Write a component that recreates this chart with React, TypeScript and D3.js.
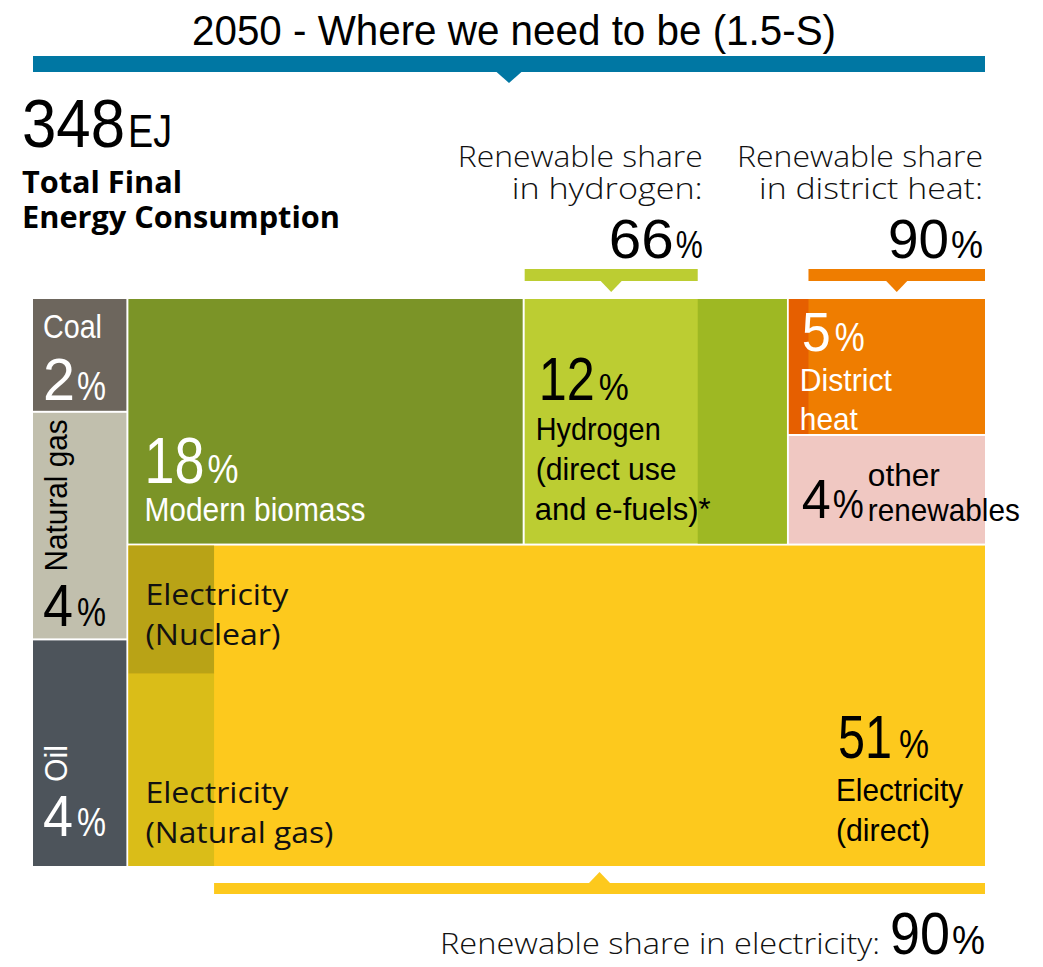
import React from "react";
import * as d3 from "d3";

// ---------- DATA ----------
const categories = ["Coal", "Natural gas", "Oil", "Modern biomass", "Hydrogen", "District heat", "Other renewables", "Electricity"];
const shares = [2, 4, 4, 18, 12, 5, 4, 51];
const colors = ["#6d665d", "#c1bfad", "#4d545b", "#7b9427", "#bccd32", "#ef7d00", "#f0c8c2", "#fdc91d"];

const renewableCarriers = ["Hydrogen", "District heat", "Electricity"];
const renewableShares = [66, 90, 90];
const nonRenewableColors = ["#9eb823", "#e65f00", "#dabd18"];

const nonRenewableElectricity = ["Nuclear", "Natural gas"];
const nonRenewableElectricitySplit = [40, 60];
const nonRenewableElectricityColors = ["#b9a316", "#dabd18"];

const totalEJ = 348;
const titleText = "2050  -  Where we need to be (1.5-S)";

// ---------- STYLE ----------
const W = 1043;
const H = 967;
const COND = "'Liberation Sans', Arimo, Arial, sans-serif";
const HUM = "'Open Sans', Lato, 'Noto Sans', sans-serif";
const BLUE = "#0077a3";
const plot = { x: 33, y: 299, w: 952, h: 567 };

const shareOf = (name: string) => shares[categories.indexOf(name)];
const colorOf = (name: string) => colors[categories.indexOf(name)];
const leaf = (name: string) => ({ name, value: shareOf(name) });

const tree = {
  name: "TFEC",
  children: [
    { name: "Fossil", children: [leaf("Coal"), leaf("Natural gas"), leaf("Oil")] },
    {
      name: "Non-fossil",
      children: [
        { name: "Top", children: [leaf("Modern biomass"), leaf("Hydrogen"), { name: "Heat", children: [leaf("District heat"), leaf("Other renewables")] }] },
        leaf("Electricity"),
      ],
    },
  ],
};

type Cell = { x0: number; x1: number; y0: number; y1: number };

function T(p: any) {
  const { x, y, size, fill = "#000", font = COND, weight = 400, len, anchor = "start", transform, children } = p;
  return (
    <text
      x={x}
      y={y}
      fontSize={size}
      fill={fill}
      fontFamily={font}
      fontWeight={weight}
      textAnchor={anchor}
      textLength={len}
      lengthAdjust={len ? "spacingAndGlyphs" : undefined}
      transform={transform}
    >
      {children}
    </text>
  );
}

// percentage label: big number followed by a smaller "%"
function Pct(p: any) {
  const { x, y, value, big, small, w1, w2, gap = 2, fill = "#000", anchor = "start", font = COND } = p;
  const start = anchor === "end" ? x - (w1 + gap + w2) : x;
  return (
    <g fill={fill} fontFamily={font}>
      <text x={start} y={y} fontSize={big} textLength={w1} lengthAdjust="spacingAndGlyphs">{value}</text>
      <text x={start + w1 + gap} y={y} fontSize={small} textLength={w2} lengthAdjust="spacingAndGlyphs">%</text>
    </g>
  );
}

function Bar(p: any) {
  const { x0, x1, y, h, color, dir, tri = 11, half = 11 } = p;
  const cx = (x0 + x1) / 2;
  const path = d3.path();
  if (dir === "down") {
    path.moveTo(cx - half, y + h - 0.5);
    path.lineTo(cx + half, y + h - 0.5);
    path.lineTo(cx, y + h + tri);
  } else {
    path.moveTo(cx - half, y + 0.5);
    path.lineTo(cx + half, y + 0.5);
    path.lineTo(cx, y - tri);
  }
  path.closePath();
  return (
    <g>
      <rect x={x0} y={y} width={x1 - x0} height={h} fill={color} />
      <path d={path.toString()} fill={color} />
    </g>
  );
}

export default function App() {
  const hier = d3.hierarchy<any>(tree).sum((d: any) => d.value ?? 0);
  const root = d3
    .treemap<any>()
    .tile(d3.treemapSliceDice)
    .size([plot.w, plot.h])
    .paddingInner(2)
    .round(false)(hier);

  const cells: Record<string, Cell> = {};
  root.descendants().forEach((n: any) => {
    cells[n.data.name] = { x0: n.x0 + plot.x, x1: n.x1 + plot.x, y0: n.y0 + plot.y, y1: n.y1 + plot.y };
  });

  const leaves = root.leaves();

  const hyd = cells["Hydrogen"];
  const hydX = d3.scaleLinear().domain([0, 100]).range([hyd.x0, hyd.x1]);
  const hydShare = renewableShares[renewableCarriers.indexOf("Hydrogen")];

  const dh = cells["District heat"];
  const dhX = d3.scaleLinear().domain([0, 100]).range([dh.x0, dh.x1]);
  const dhShare = renewableShares[renewableCarriers.indexOf("District heat")];

  const el = cells["Electricity"];
  const elX = d3.scaleLinear().domain([0, 100]).range([el.x0, el.x1]);
  const elShare = renewableShares[renewableCarriers.indexOf("Electricity")];
  const elY = d3.scaleLinear().domain([0, 100]).range([el.y0, el.y1]);
  const elCum = d3.cumsum(nonRenewableElectricitySplit);
  const elParts = nonRenewableElectricity.map((name, i) => ({
    name,
    y0: elY(i === 0 ? 0 : elCum[i - 1]),
    y1: elY(elCum[i]),
    color: nonRenewableElectricityColors[i],
  }));

  const coal = cells["Coal"];
  const gas = cells["Natural gas"];
  const oil = cells["Oil"];
  const bio = cells["Modern biomass"];
  const oth = cells["Other renewables"];
  const nuc = elParts[0];
  const ngEl = elParts[1];

  const topBarY = plot.y - 30;
  const bottomBarY = el.y1 + 17;
  const gasPctY = gas.y1 - 12;
  const oilPctY = oil.y1 - 30;

  return (
    <svg width={W} height={H} style={{ position: "absolute", left: 0, top: 0, display: "block" }} viewBox={`0 0 ${W} ${H}`}>
      <rect x={0} y={0} width={W} height={H} fill="#fff" />

      {/* Title */}
      <T x={(plot.x + plot.x + plot.w) / 2 + 5} y={45} size={42} anchor="middle" len={644}>
        {titleText}
      </T>
      <Bar x0={plot.x} x1={plot.x + plot.w} y={56} h={16} color={BLUE} dir="down" tri={11} half={13} />

      {/* Total */}
      <T x={22} y={147} size={68} len={103}>{totalEJ}</T>
      <T x={128} y={147} size={46} len={44}>EJ</T>
      <T x={22} y={193} size={30} font={HUM} weight={700} len={160}>Total Final</T>
      <T x={22} y={228} size={30} font={HUM} weight={700} len={318}>Energy Consumption</T>

      {/* Cells */}
      {leaves.map((n: any) => (
        <rect
          key={n.data.name}
          x={n.x0 + plot.x}
          y={n.y0 + plot.y}
          width={n.x1 - n.x0}
          height={n.y1 - n.y0}
          fill={colorOf(n.data.name)}
        />
      ))}

      {/* Hydrogen non-renewable part */}
      <rect x={hydX(hydShare)} y={hyd.y0} width={hyd.x1 - hydX(hydShare)} height={hyd.y1 - hyd.y0} fill={nonRenewableColors[0]} />
      {/* District heat non-renewable part */}
      <rect x={dh.x0} y={dh.y0} width={dhX(100 - dhShare) - dh.x0} height={dh.y1 - dh.y0} fill={nonRenewableColors[1]} />
      {/* Electricity non-renewable parts */}
      {elParts.map((p) => (
        <rect key={p.name} x={el.x0} y={p.y0} width={elX(100 - elShare) - el.x0} height={p.y1 - p.y0} fill={p.color} />
      ))}

      {/* Renewable share bars */}
      <Bar x0={hyd.x0} x1={hydX(hydShare)} y={topBarY} h={12} color={colorOf("Hydrogen")} dir="down" />
      <Bar x0={dhX(100 - dhShare)} x1={dh.x1} y={topBarY} h={12} color={colorOf("District heat")} dir="down" />
      <Bar x0={elX(100 - elShare)} x1={el.x1} y={bottomBarY} h={11} color={colorOf("Electricity")} dir="up" />

      {/* Renewable share annotations: hydrogen */}
      <T x={hydX(hydShare) + 5} y={topBarY - 102} size={29} font={HUM} weight={300} anchor="end" len={245} fill="#111">Renewable share</T>
      <T x={hydX(hydShare) + 5} y={topBarY - 70} size={29} font={HUM} weight={300} anchor="end" len={191} fill="#111">in hydrogen:</T>
      <Pct x={hydX(hydShare) + 5} y={topBarY - 11} value={hydShare} big={56} small={38} w1={65} w2={27} anchor="end" />

      {/* district heat */}
      <T x={dh.x1 - 2} y={topBarY - 102} size={29} font={HUM} weight={300} anchor="end" len={246} fill="#111">Renewable share</T>
      <T x={dh.x1 - 2} y={topBarY - 70} size={29} font={HUM} weight={300} anchor="end" len={224} fill="#111">in district heat:</T>
      <Pct x={dh.x1 - 2} y={topBarY - 11} value={dhShare} big={56} small={38} w1={61} w2={32} anchor="end" />

      {/* electricity */}
      <T x={el.x1 - 105} y={bottomBarY + 71} size={29} font={HUM} weight={300} anchor="end" len={440} fill="#111">Renewable share in electricity:</T>
      <Pct x={el.x1} y={bottomBarY + 71} value={elShare} big={60} small={40} w1={60} w2={33} anchor="end" />

      {/* Fossil labels */}
      <T x={coal.x0 + 10} y={coal.y0 + 39} size={34} fill="#fff" len={59}>Coal</T>
      <Pct x={coal.x0 + 10} y={coal.y0 + 101} value={shareOf("Coal")} big={60} small={41} w1={32} w2={29} fill="#fff" />

      <T x={0} y={0} size={32} len={152} transform={`translate(${gas.x0 + 34},${gasPctY - 55}) rotate(-90)`}>Natural gas</T>
      <Pct x={gas.x0 + 10} y={gasPctY} value={shareOf("Natural gas")} big={59} small={41} w1={30} w2={29} gap={4} />

      <T x={0} y={0} size={32} fill="#fff" len={37} transform={`translate(${oil.x0 + 34},${oilPctY - 54}) rotate(-90)`}>Oil</T>
      <Pct x={oil.x0 + 10} y={oilPctY} value={shareOf("Oil")} big={58} small={41} w1={30} w2={29} gap={4} fill="#fff" />

      {/* Biomass */}
      <Pct x={bio.x0 + 16} y={bio.y1 - 61} value={shareOf("Modern biomass")} big={65} small={41} w1={60} w2={31} gap={3} fill="#fff" />
      <T x={bio.x0 + 16} y={bio.y1 - 23} size={33} fill="#fff" len={221}>Modern biomass</T>

      {/* Hydrogen */}
      <Pct x={hyd.x0 + 14} y={hyd.y1 - 144} value={shareOf("Hydrogen")} big={61} small={36} w1={56} w2={30} gap={4} />
      <T x={hyd.x0 + 11} y={hyd.y1 - 104} size={32} len={125}>Hydrogen</T>
      <T x={hyd.x0 + 11} y={hyd.y1 - 64} size={32} len={141}>(direct use</T>
      <T x={hyd.x0 + 10} y={hyd.y1 - 24} size={32} len={176}>and e-fuels)*</T>

      {/* District heat */}
      <Pct x={dh.x0 + 13} y={dh.y0 + 52} value={shareOf("District heat")} big={56} small={40} w1={29} w2={30} gap={4} fill="#fff" />
      <T x={dh.x0 + 11} y={dh.y0 + 92} size={32} fill="#fff" len={92}>District</T>
      <T x={dh.x0 + 11} y={dh.y0 + 131} size={32} fill="#fff" len={58}>heat</T>

      {/* Other renewables */}
      <Pct x={oth.x0 + 13} y={oth.y1 - 26} value={shareOf("Other renewables")} big={55} small={40} w1={29} w2={31} gap={2} />
      <T x={oth.x0 + 79} y={oth.y1 - 58} size={32} len={72}>other</T>
      <T x={oth.x0 + 79} y={oth.y1 - 23} size={32} len={152}>renewables</T>

      {/* Electricity non-renewable labels */}
      <T x={el.x0 + 17} y={nuc.y0 + 59} size={30} font={HUM} len={143} fill="#111">Electricity</T>
      <T x={el.x0 + 17} y={nuc.y0 + 99} size={30} font={HUM} len={135} fill="#111">(Nuclear)</T>
      <T x={el.x0 + 17} y={ngEl.y1 - 63} size={30} font={HUM} len={143} fill="#111">Electricity</T>
      <T x={el.x0 + 17} y={ngEl.y1 - 23} size={30} font={HUM} len={188} fill="#111">(Natural gas)</T>

      {/* Electricity direct */}
      <Pct x={el.x1 - 147} y={el.y1 - 108} value={shareOf("Electricity")} big={61} small={40} w1={54} w2={30} gap={7} />
      <T x={el.x1 - 149} y={el.y1 - 65} size={32} len={127}>Electricity</T>
      <T x={el.x1 - 149} y={el.y1 - 25} size={32} len={94}>(direct)</T>
    </svg>
  );
}
